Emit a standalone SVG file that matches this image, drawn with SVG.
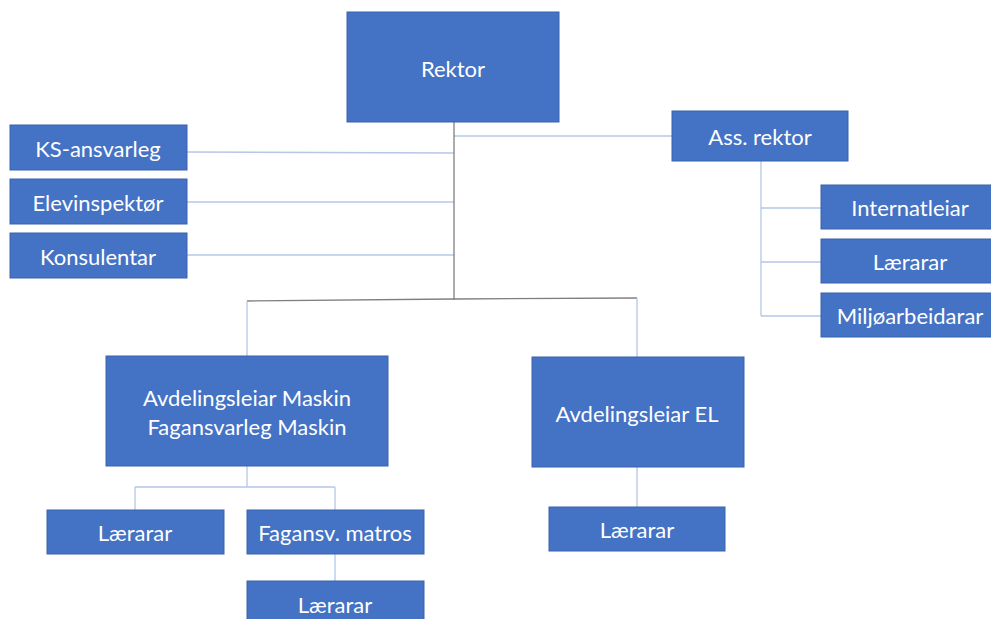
<svg xmlns="http://www.w3.org/2000/svg" width="991" height="619" viewBox="0 0 991 619">
<style>
.box{fill:#4472C4;stroke:#3A63AD;stroke-width:1}
.t{fill:#ffffff;font-family:Lato,"Liberation Sans",sans-serif;font-size:22px;text-anchor:middle;dominant-baseline:central}
.c{fill:none;stroke:#B4C7E7;stroke-width:1.3}
.g{fill:none;stroke:#7F7F7F;stroke-width:1.3}
</style>
<rect width="991" height="619" fill="#ffffff"/>
<g id="connectors">
<path class="c" d="M187 152 L454 153"/>
<path class="c" d="M187 202 L454 202"/>
<path class="c" d="M187 255 L454 255"/>
<path class="c" d="M454 136 L672 136"/>
<path class="g" d="M454 122 L454 300"/>
<path class="g" d="M247 301 L454 299"/>
<path class="g" d="M454 299 L637 298"/>
<path class="c" d="M247 301 L247 356"/>
<path class="c" d="M637 298 L637 357"/>
<path class="c" d="M761 161 L761 316 M761 208 L821 208 M761 262 L821 262 M761 316 L821 316"/>
<path class="c" d="M247 466 L247 487 M135 487 L335 487 M135 487 L135 510 M335 487 L335 510"/>
<path class="c" d="M335 554 L335 581"/>
<path class="c" d="M637 467 L637 507"/>
</g>
<g id="rektor"><rect class="box" x="347" y="12" width="212" height="110"/><text class="t" x="453" y="68">Rektor</text></g>
<g id="ks"><rect class="box" x="10" y="125" width="177" height="45"/><text class="t" x="98" y="148">KS-ansvarleg</text></g>
<g id="elevinspektor"><rect class="box" x="10" y="179" width="177" height="45"/><text class="t" x="98" y="202">Elevinspektør</text></g>
<g id="konsulentar"><rect class="box" x="10" y="233" width="177" height="45"/><text class="t" x="98" y="256">Konsulentar</text></g>
<g id="assrektor"><rect class="box" x="672" y="111" width="176" height="50"/><text class="t" x="760" y="136">Ass. rektor</text></g>
<g id="internatleiar"><rect class="box" x="821" y="185" width="177" height="44"/><text class="t" x="910" y="207">Internatleiar</text></g>
<g id="lærarar-ass"><rect class="box" x="821" y="239" width="177" height="44"/><text class="t" x="910" y="261">Lærarar</text></g>
<g id="miljo"><rect class="box" x="821" y="293" width="177" height="44"/><text class="t" x="910" y="315">Miljøarbeidarar</text></g>
<g id="avd-maskin"><rect class="box" x="106" y="356" width="282" height="110"/><text class="t" x="247" y="397">Avdelingsleiar Maskin</text><text class="t" x="247" y="426">Fagansvarleg Maskin</text></g>
<g id="avd-el"><rect class="box" x="532" y="357" width="212" height="110"/><text class="t" x="637" y="413">Avdelingsleiar EL</text></g>
<g id="lærarar-maskin"><rect class="box" x="47" y="510" width="177" height="44"/><text class="t" x="135" y="532">Lærarar</text></g>
<g id="fagansv-matros"><rect class="box" x="247" y="510" width="177" height="44"/><text class="t" x="335" y="532">Fagansv. matros</text></g>
<g id="lærarar-matros"><rect class="box" x="247" y="581" width="177" height="44"/><text class="t" x="335" y="604">Lærarar</text></g>
<g id="lærarar-el"><rect class="box" x="549" y="507" width="176" height="44"/><text class="t" x="637" y="529">Lærarar</text></g>
</svg>
